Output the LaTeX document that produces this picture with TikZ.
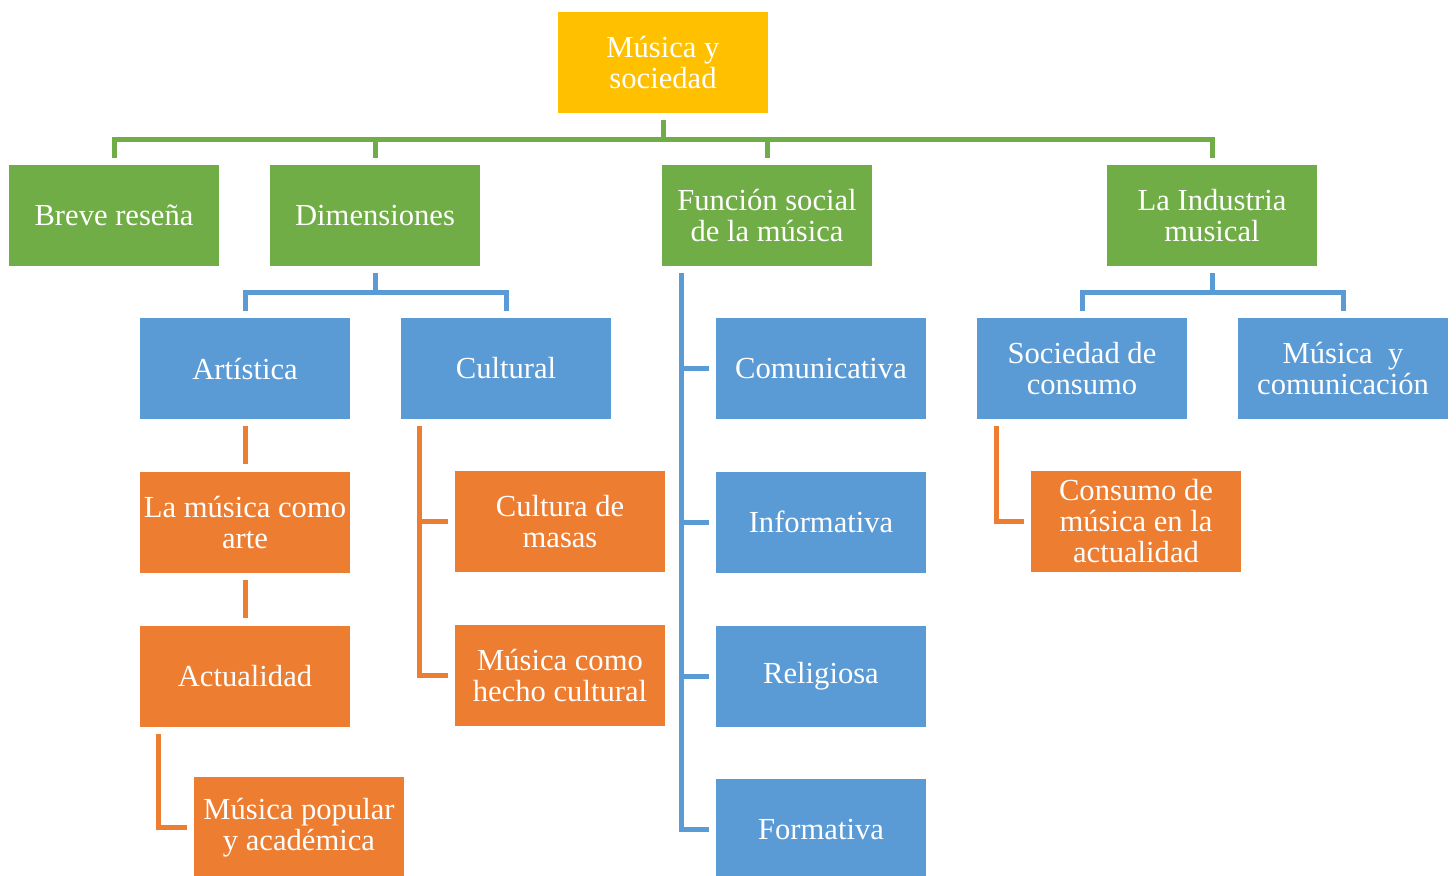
\documentclass[tikz,border=0pt]{standalone}
\usepackage{fontspec}
\setmainfont{Liberation Serif}
\usepackage{tikz}
\usetikzlibrary{positioning}

\definecolor{gold}{HTML}{FFC000}
\definecolor{leaf}{HTML}{70AD47}
\definecolor{sky}{HTML}{5B9BD5}
\definecolor{amber}{HTML}{ED7D31}

\tikzset{
  box/.style={rectangle, minimum width=105pt, minimum height=50.5pt, inner sep=1pt,
    text=white, align=center, font=\fontsize{15.3}{15.5}\selectfont},
  topbox/.style={box, fill=gold},
  greenbox/.style={box, fill=leaf},
  bluebox/.style={box, fill=sky},
  orangebox/.style={box, fill=amber},
  link/.style={line width=2.5pt, shorten <=3.5pt, shorten >=3.5pt},
}

\begin{document}
\begin{tikzpicture}[x=0.5pt, y=-0.5pt]

  \useasboundingbox (0,0) rectangle (1456,875);

  % level 0 and 1
  \node[topbox]		(ms)	at (663,62.5)	{Música y\\sociedad};
  \node[greenbox]	(br)	at (114,215.5)	{Breve reseña};
  \node[greenbox]	(dim)	at (375,215.5)	{Dimensiones};
  \node[greenbox]	(fs)	at (767,215.5)	{Función social\\de la música};
  \node[greenbox]	(ind)	at (1212,215.5)	{La Industria\\musical};

  % level 2
  \node[bluebox]	(art)	at (245,368.5)	{Artística};
  \node[bluebox]	(cul)	at (506,368.5)	{Cultural};
  \node[bluebox]	(com)	at (821,368.5)	{Comunicativa};
  \node[bluebox]	(inf)	[below=26pt of com]	{Informativa};
  \node[bluebox]	(rel)	[below=26pt of inf]	{Religiosa};
  \node[bluebox]	(for)	[below=26pt of rel]	{Formativa};
  \node[bluebox]	(soc)	at (1082,368.5)	{Sociedad de\\consumo};
  \node[bluebox]	(mc)	at (1343,368.5)	{Música \ y\\comunicación};

  % level 3
  \node[orangebox]	(arte)	[below=26pt of art]	{La música como\\arte};
  \node[orangebox]	(act)	[below=26pt of arte]	{Actualidad};
  \node[orangebox]	(pop)	at (299,827.5)	{Música popular\\y académica};
  \node[orangebox]	(mas)	at (560,521.5)	{Cultura de\\masas};
  \node[orangebox]	(hec)	[below=26pt of mas]	{Música como\\hecho cultural};
  \node[orangebox]	(cons)	at (1136,521.5)	{Consumo de\\música en la\\actualidad};

  % buses
  \coordinate (gbus) at (0,139);
  \coordinate (dbus) at (0,292);
  \coordinate (fbus) at (681,0);
  \coordinate (cbus) at (419,0);
  \coordinate (abus) at (158,0);
  \coordinate (sbus) at (996,0);

  % green tree
  \foreach \c in {br,dim,fs,ind}
    \draw[link, leaf] (ms.south) -- (ms.south |- gbus) -| (\c.north);

  % blue trees
  \foreach \p/\c in {dim/art,dim/cul,ind/soc,ind/mc}
    \draw[link, sky] (\p.south) -- (\p.south |- dbus) -| (\c.north);
  \foreach \c in {com,inf,rel,for}
    \draw[link, sky] (fbus |- fs.south) |- (\c.west);

  % orange trees
  \draw[link, amber] (art) -- (arte);
  \draw[link, amber] (arte) -- (act);
  \draw[link, amber] (abus |- act.south) |- (pop.west);
  \foreach \c in {mas,hec}
    \draw[link, amber] (cbus |- cul.south) |- (\c.west);
  \draw[link, amber] (sbus |- soc.south) |- (cons.west);

\end{tikzpicture}
\end{document}
